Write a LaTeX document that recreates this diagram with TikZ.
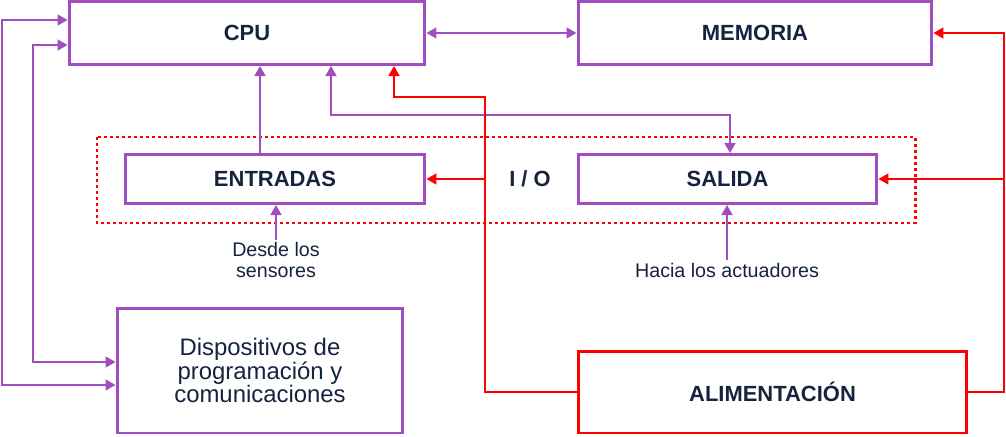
\documentclass[tikz,border=0pt]{standalone}
\usepackage{fontspec}
\setmainfont{Liberation Sans}
\usetikzlibrary{arrows.meta}

\definecolor{vio}{HTML}{A04DC0}
\definecolor{navy}{HTML}{16233F}
\definecolor{rojo}{HTML}{FF0000}

\begin{document}
\begin{tikzpicture}[x=0.02cm, y=-0.02cm,
  every node/.style={text=navy},
  box/.style={draw=vio, line width=1.7pt, inner sep=0pt, font=\fontsize{12.5}{14}\selectfont\bfseries},
  power/.style={box, draw=rojo},
  arr/.style={draw=vio, line width=1.1pt, -{Triangle[length=5.7pt,width=6.2pt]}},
  biarr/.style={arr, {Triangle[length=5.7pt,width=6.2pt]}-{Triangle[length=5.7pt,width=6.2pt]}},
  rarr/.style={arr, draw=rojo},
  note/.style={font=\fontsize{11.2}{11.6}\selectfont, align=center, inner sep=1.5pt}]

\useasboundingbox (0,0) rectangle (1006,436);

% BLOCKS
\node[box, minimum width=7.12cm, minimum height=1.26cm] (cpu) at (247,33) {CPU};
\node[box, minimum width=7.08cm, minimum height=1.26cm] (mem) at (755,33) {MEMORIA};
\node[box, minimum width=6.0cm, minimum height=0.98cm] (ent) at (275,179) {ENTRADAS};
\node[box, minimum width=5.98cm, minimum height=0.98cm] (sal) at (727.5,179) {SALIDA};
\node[box, minimum width=5.72cm, minimum height=2.5cm, font=\fontsize{13.6}{13.6}\selectfont, align=center]
  (dis) at (260,370.5) {Dispositivos de\\programación y\\comunicaciones};
\node[power, minimum width=7.78cm, minimum height=1.64cm] (ali) at (772.5,392) {ALIMENTACIÓN};

% I/O group
\draw[rojo, line width=1.7pt, dash pattern=on 1.7pt off 1.7pt] (97,137) rectangle (915,223);
\node[font=\fontsize{12.5}{14}\selectfont\bfseries] (io) at (530,179) {I / O};

% labels
\node[note] (sens) at (276,260) {Desde los\\sensores};
\node[note] (act) at (727,270) {Hacia los actuadores};

% purple links
\draw[biarr] (cpu) -- (mem);
\draw[arr] ([xshift=-0.3cm]ent.north) -- ([xshift=0.26cm]cpu.south);
\draw[biarr] ([xshift=1.68cm]cpu.south) |- (730,115) -- ([xshift=0.05cm]sal.north);
\draw[biarr] (cpu.west |- 0,20) -| (2,385) -- (dis.west |- 0,385);
\draw[biarr] (cpu.west |- 0,45) -| (33,362) -- (dis.west |- 0,362);
\draw[arr] (sens.north) -- (sens.north |- ent.south);
\draw[arr] (act.north) -- (act.north |- sal.south);

% power lines
\draw[rarr] (ali.west) -| (485,97) -| (cpu.south -| 394,0);
\draw[rarr] (ent.east -| 485,0) -- (ent.east);
\draw[rarr] (ali.east) -| (1004,33) -- (mem.east);
\draw[rarr] (sal.east -| 1004,0) -- (sal.east);

\end{tikzpicture}
\end{document}
